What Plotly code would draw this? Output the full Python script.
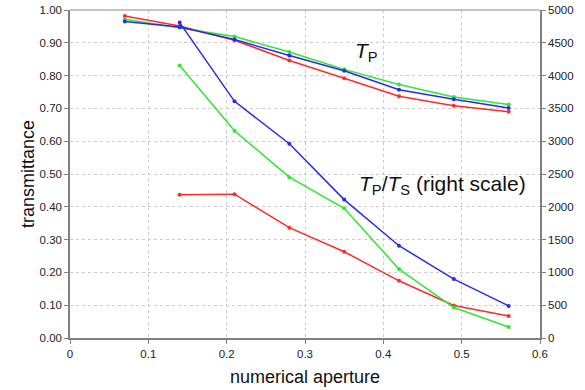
import plotly.graph_objects as go

na = [0.07, 0.14, 0.21, 0.28, 0.35, 0.42, 0.49, 0.56]
na_ratio = [0.14, 0.21, 0.28, 0.35, 0.42, 0.49, 0.56]

tp_red = [0.982, 0.951, 0.908, 0.846, 0.792, 0.737, 0.708, 0.690]
tp_green = [0.972, 0.946, 0.919, 0.872, 0.819, 0.773, 0.735, 0.712]
tp_blue = [0.965, 0.948, 0.910, 0.861, 0.815, 0.757, 0.728, 0.701]

ratio_red = [2182, 2193, 1682, 1315, 872, 495, 336]
ratio_green = [4154, 3160, 2452, 1978, 1050, 465, 168]
ratio_blue = [4808, 3608, 2962, 2110, 1407, 898, 489]

colors = {"red": "#ff2a2a", "green": "#2ee82e", "blue": "#2a2aee"}

fig = go.Figure()
for name, ys in [("red", tp_red), ("green", tp_green), ("blue", tp_blue)]:
    fig.add_trace(go.Scatter(x=na, y=ys, mode="lines+markers",
                             line=dict(color=colors[name], width=1.5),
                             marker=dict(color=colors[name], size=4),
                             showlegend=False))
for name, ys in [("red", ratio_red), ("green", ratio_green), ("blue", ratio_blue)]:
    fig.add_trace(go.Scatter(x=na_ratio, y=ys, mode="lines+markers", yaxis="y2",
                             line=dict(color=colors[name], width=1.5),
                             marker=dict(color=colors[name], size=4),
                             showlegend=False))

tickfont = dict(family="Liberation Sans, Arial, sans-serif", size=11.5, color="#222222")
titlefont = dict(family="Liberation Sans, Arial, sans-serif", size=18, color="#111111")

fig.update_layout(
    width=585, height=390,
    margin=dict(l=70, r=45, t=10, b=52),
    paper_bgcolor="white", plot_bgcolor="white",
    xaxis=dict(range=[0, 0.6], dtick=0.1, tick0=0, showgrid=True, automargin=False,
               gridcolor="#cccccc", griddash="dot", gridwidth=1,
               showline=True, linecolor="#808080", linewidth=1.5,
               ticks="outside", ticklen=4, tickcolor="#808080",
               tickfont=tickfont, zeroline=False,
               title=dict(text="numerical aperture", font=titlefont, standoff=12)),
    yaxis=dict(range=[0, 1], dtick=0.1, tick0=0, tickformat=".2f", showgrid=True,
               automargin=False,
               gridcolor="#cccccc", griddash="dot", gridwidth=1,
               showline=True, linecolor="#808080", linewidth=1.5,
               ticks="outside", ticklen=4, tickcolor="#808080",
               tickfont=tickfont, zeroline=False,
               title=dict(text="transmittance", font=titlefont, standoff=0)),
    yaxis2=dict(range=[0, 5000], dtick=500, tick0=0, overlaying="y", side="right",
                automargin=False,
                showgrid=False, showline=True, linecolor="#808080", linewidth=1.5,
                ticks="outside", ticklen=4, tickcolor="#808080",
                tickfont=tickfont, zeroline=False),
    shapes=[dict(type="line", xref="paper", yref="paper", x0=0, x1=1, y0=1, y1=1,
                 line=dict(color="#b0b0b0", width=1.5))],
    annotations=[
        dict(x=0.379, y=0.871, xref="x", yref="y", showarrow=False,
             text="<i>T</i><sub>P</sub>",
             font=dict(family="Liberation Sans, Arial, sans-serif", size=21, color="#111111")),
        dict(x=0.475, y=0.467, xref="x", yref="y", showarrow=False,
             text="<i>T</i><sub>P</sub>/<i>T</i><sub>S</sub> (right scale)",
             font=dict(family="Liberation Sans, Arial, sans-serif", size=21, color="#111111")),
    ],
)

fig.write_html("out.html", config={"displayModeBar": False},
               post_script="document.body.style.margin='0';")
